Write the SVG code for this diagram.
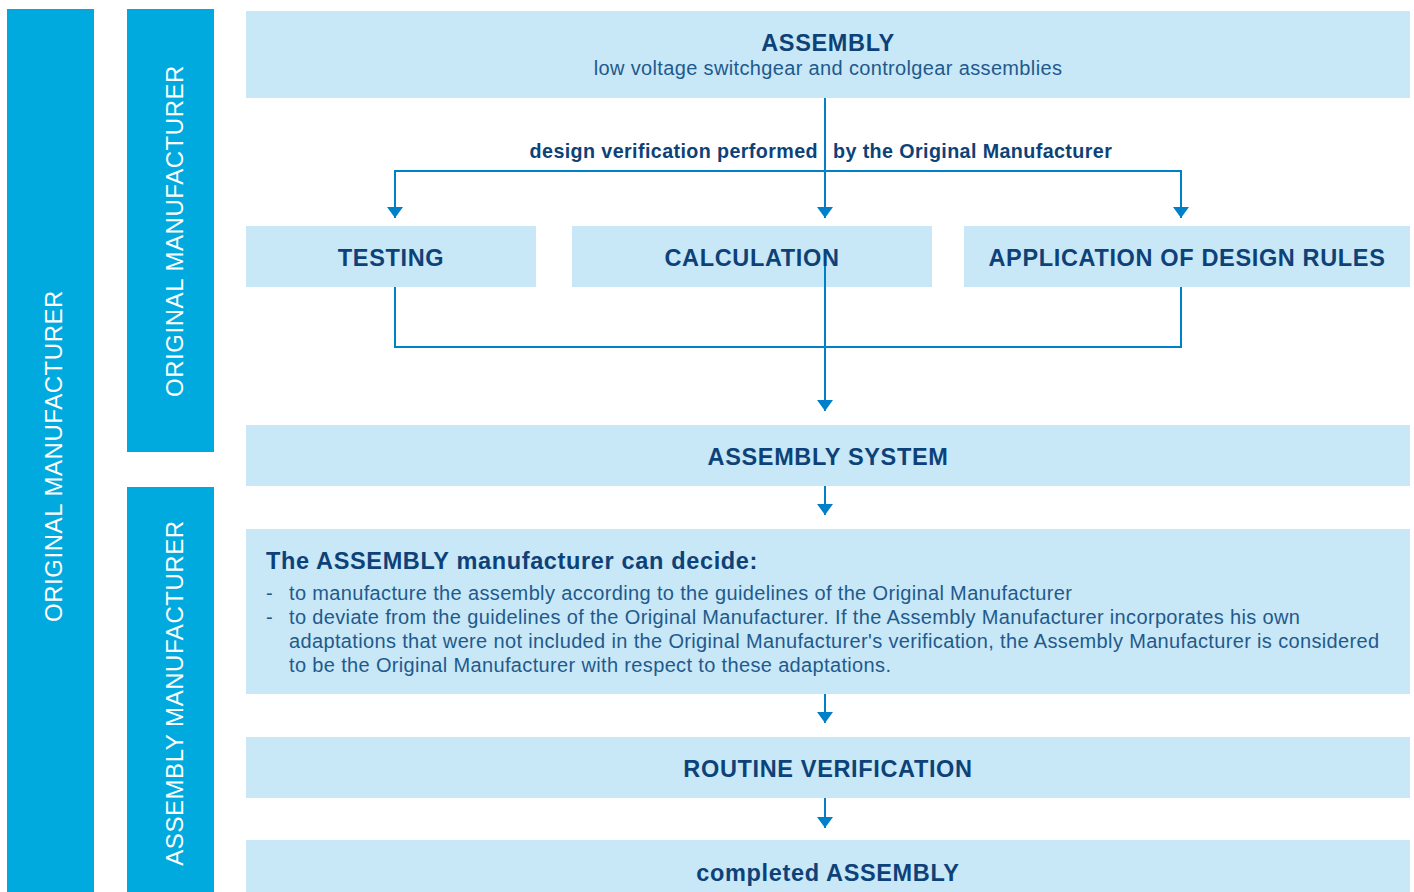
<svg xmlns="http://www.w3.org/2000/svg" width="1414" height="892" viewBox="0 0 1414 892">
<defs>
<marker id="arr" markerWidth="11" markerHeight="16" refX="11" refY="8" orient="auto" markerUnits="userSpaceOnUse" viewBox="0 0 11 16">
<path d="M0,0 L11,8 L0,16 Z" fill="#0080c8"/>
</marker>
<style>
.bar{fill:#00aade}
.box{fill:#c8e7f7}
.side{font-family:"Liberation Sans",Arial,sans-serif;font-size:24px;fill:#ffffff;text-anchor:middle;letter-spacing:0.55px}
.h{font-family:"Liberation Sans",Arial,sans-serif;font-size:23.5px;font-weight:bold;fill:#0d4278;text-anchor:middle;letter-spacing:0.65px}
.s{font-family:"Liberation Sans",Arial,sans-serif;font-size:20px;fill:#1f5a8c;letter-spacing:0.35px}
.lbl{font-family:"Liberation Sans",Arial,sans-serif;font-size:19.7px;font-weight:bold;fill:#0d4278;letter-spacing:0.4px}
.ln{fill:none;stroke:#0080c8;stroke-width:2}
</style>
</defs>
<g id="side-original">
<rect class="bar" x="7" y="9" width="87" height="883"/>
<text class="side" transform="translate(62,456) rotate(-90)">ORIGINAL MANUFACTURER</text>
</g>
<g id="side-original-2">
<rect class="bar" x="127" y="9" width="87" height="443"/>
<text class="side" transform="translate(183,231) rotate(-90)">ORIGINAL MANUFACTURER</text>
</g>
<g id="side-assembly">
<rect class="bar" x="127" y="487" width="87" height="405"/>
<text class="side" transform="translate(183,693) rotate(-90)">ASSEMBLY MANUFACTURER</text>
</g>
<g id="assembly">
<rect class="box" x="246" y="11" width="1164" height="87"/>
<text class="h" x="828" y="51">ASSEMBLY</text>
<text class="s" x="828" y="75" text-anchor="middle">low voltage switchgear and controlgear assemblies</text>
</g>
<g id="testing">
<rect class="box" x="246" y="226" width="290" height="61"/>
<text class="h" x="391" y="266">TESTING</text>
</g>
<g id="calculation">
<rect class="box" x="572" y="226" width="360" height="61"/>
<text class="h" x="752" y="266">CALCULATION</text>
</g>
<g id="design-rules">
<rect class="box" x="964" y="226" width="446" height="61"/>
<text class="h" x="1187" y="266">APPLICATION OF DESIGN RULES</text>
</g>
<g id="assembly-system">
<rect class="box" x="246" y="425" width="1164" height="61"/>
<text class="h" x="828" y="465">ASSEMBLY SYSTEM</text>
</g>
<g id="decide">
<rect class="box" x="246" y="529" width="1164" height="165"/>
<text class="h" x="266" y="569" style="text-anchor:start">The ASSEMBLY manufacturer can decide:</text>
<text class="s" x="266" y="600">-</text>
<text class="s" x="289" y="600">to manufacture the assembly according to the guidelines of the Original Manufacturer</text>
<text class="s" x="266" y="624">-</text>
<text class="s" x="289" y="624">to deviate from the guidelines of the Original Manufacturer. If the Assembly Manufacturer incorporates his own</text>
<text class="s" x="289" y="648">adaptations that were not included in the Original Manufacturer's verification, the Assembly Manufacturer is considered</text>
<text class="s" x="289" y="672">to be the Original Manufacturer with respect to these adaptations.</text>
</g>
<g id="routine">
<rect class="box" x="246" y="737" width="1164" height="61"/>
<text class="h" x="828" y="777">ROUTINE VERIFICATION</text>
</g>
<g id="completed">
<rect class="box" x="246" y="840" width="1164" height="52"/>
<text class="h" x="828" y="881">completed ASSEMBLY</text>
</g>
<g id="connectors">
<path class="ln" d="M825,98 V218" marker-end="url(#arr)"/>
<path class="ln" d="M395,208 V171 H1181 V208"/>
<path class="ln" d="M395,171 V218" marker-end="url(#arr)"/>
<path class="ln" d="M1181,171 V218" marker-end="url(#arr)"/>
<path class="ln" d="M395,287 V347 H1181 V287"/>
<path class="ln" d="M825,266 V411" marker-end="url(#arr)"/>
<path class="ln" d="M825,486 V515" marker-end="url(#arr)"/>
<path class="ln" d="M825,694 V723" marker-end="url(#arr)"/>
<path class="ln" d="M825,798 V828" marker-end="url(#arr)"/>
<text class="lbl" x="818" y="158" text-anchor="end">design verification performed</text>
<text class="lbl" x="833" y="158">by the Original Manufacturer</text>
</g>
</svg>
